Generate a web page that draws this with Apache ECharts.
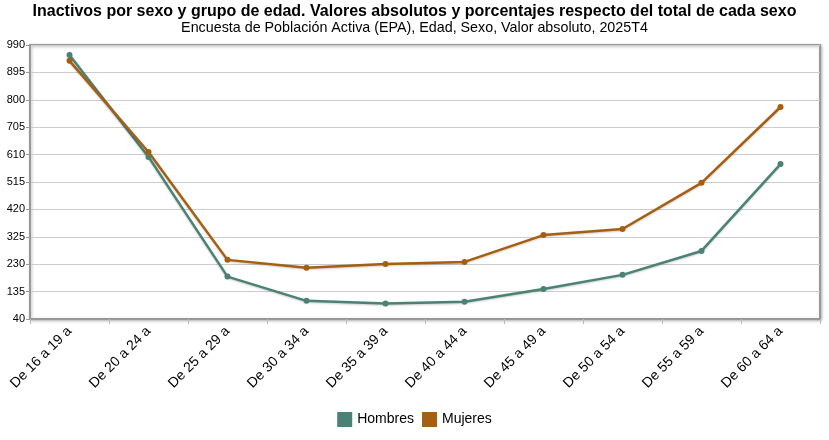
<!DOCTYPE html>
<html lang="es">
<head>
    <meta charset="UTF-8">
    <title>Inactivos por sexo y grupo de edad</title>
    <script src="https://cdn.jsdelivr.net/npm/echarts@6/dist/echarts.min.js"></script>
    <style>
        html, body { margin: 0; padding: 0; background: #fff; }
        #main { width: 829px; height: 440px; }
    </style>
</head>
<body>
<div id="main"></div>
<script>
    // grupos de edad
    var categorias = ['De 16 a 19 a', 'De 20 a 24 a', 'De 25 a 29 a', 'De 30 a 34 a', 'De 35 a 39 a',
        'De 40 a 44 a', 'De 45 a 49 a', 'De 50 a 54 a', 'De 55 a 59 a', 'De 60 a 64 a'];
    var hombres = [955, 602, 187, 103, 94, 100, 144, 193, 276, 577];
    var mujeres = [935, 619, 245, 218, 231, 238, 331, 352, 512, 775];
    // eje Y: 40 .. 990 cada 95
    var yMin = 40, yMax = 990, yPaso = 95;

    var chart = echarts.init(document.getElementById('main'));
    var option = {
        animation: false,
        textStyle: { fontFamily: 'Liberation Sans, Arial, sans-serif' },
        title: {
            text: 'Inactivos por sexo y grupo de edad. Valores absolutos y porcentajes respecto del total de cada sexo',
            subtext: 'Encuesta de Población Activa (EPA), Edad, Sexo, Valor absoluto, 2025T4',
            left: 'center',
            top: -1,
            itemGap: 1,
            textStyle: { fontSize: 16, fontWeight: 'bold', color: '#000' },
            subtextStyle: { fontSize: 14.3, color: '#000' }
        },
        legend: {
            bottom: 8,
            left: 'center',
            itemWidth: 15,
            itemHeight: 15,
            itemGap: 8,
            icon: 'rect',
            textStyle: { fontSize: 14, color: '#000' },
            data: ['Hombres', 'Mujeres']
        },
        grid: {
            left: 30, right: 9, top: 45, height: 274,
            show: true,
            borderColor: '#999',
            borderWidth: 2,
            shadowColor: 'rgba(0,0,0,0.25)',
            shadowBlur: 3,
            shadowOffsetX: 1,
            shadowOffsetY: 1,
            backgroundColor: '#fff'
        },
        xAxis: {
            type: 'category',
            data: categorias,
            boundaryGap: true,
            axisLine: { lineStyle: { color: '#999', width: 2 } },
            axisTick: { show: true, length: 5, lineStyle: { color: '#bbb' } },
            axisLabel: { rotate: 45, color: '#000', fontSize: 14, margin: 10, interval: 0 }
        },
        yAxis: {
            type: 'value',
            min: yMin,
            max: yMax,
            interval: yPaso,
            axisLine: { show: true, lineStyle: { color: '#999', width: 2 } },
            axisTick: { show: true, length: 4, lineStyle: { color: '#999' } },
            axisLabel: { color: '#000', fontSize: 11, margin: 5 },
            splitLine: { lineStyle: { color: '#ccc' } }
        },
        series: [
            {
                name: 'Hombres',
                type: 'line',
                data: hombres,
                color: '#4a8275',
                symbol: 'circle',
                symbolSize: 6,
                lineStyle: { width: 2.5, shadowColor: 'rgba(0,0,0,0.2)', shadowBlur: 2, shadowOffsetY: 1 }
            },
            {
                name: 'Mujeres',
                type: 'line',
                data: mujeres,
                color: '#a65f10',
                symbol: 'circle',
                symbolSize: 6,
                lineStyle: { width: 2.5, shadowColor: 'rgba(0,0,0,0.2)', shadowBlur: 2, shadowOffsetY: 1 }
            }
        ]
    };
    chart.setOption(option);
</script>
</body>
</html>
